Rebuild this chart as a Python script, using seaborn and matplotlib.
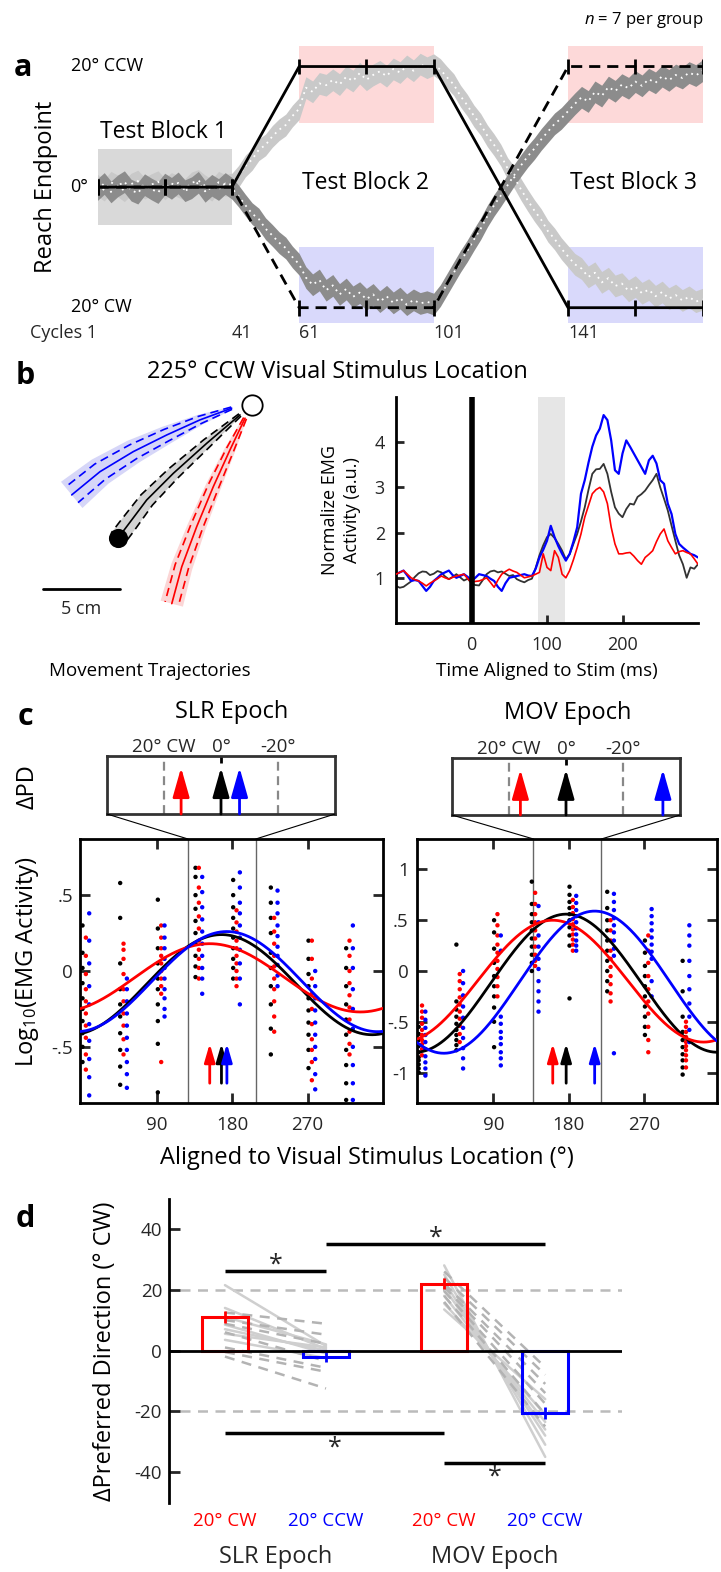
import numpy as np
import pandas as pd
import matplotlib
matplotlib.use('Agg')
import matplotlib.pyplot as plt
from matplotlib.patches import ConnectionPatch
import seaborn as sns

# ---------------- data ----------------
# a: reach endpoint (deg, + = CCW) every 2 cycles
CYCLES = list(range(1, 182, 2))
LIGHT_TRACE = [0.3, -0.5, 0.8, 0.2, -0.6, 0.5, 1.0, -0.2, 0.4, 0.9, -0.3, 0.6, 0.1, -0.4, 0.7, 1.1, 0.2, -0.5, 0.8, 0.3, 0.5,
               1.8, 3.5, 4.6, 6.2, 7.0, 8.4, 9.5, 10.3, 11.8, 13.0,
               16.5, 15.8, 17.2, 16.9, 17.8, 17.0, 18.3, 17.6, 18.9, 17.8, 18.6, 19.2, 18.4, 19.6, 19.0, 20.1, 19.3, 20.4, 19.8, 20.3,
               19.5, 18.2, 17.0, 15.1, 13.6, 11.8, 10.4, 8.5, 7.0, 5.3, 3.1, 1.6, -0.4, -2.2, -3.9, -5.4, -7.3, -8.6, -10.2, -11.5,
               -12.8, -13.5, -14.9, -14.2, -15.8, -15.1, -16.4, -16.0, -17.2, -16.5, -17.6, -17.0, -18.1, -17.4, -18.5, -17.9, -18.8, -18.2, -19.0, -18.6]
DARK_TRACE = [-0.4, 0.6, -0.8, 0.2, 0.9, -0.5, -1.0, 0.4, -0.3, -0.9, 0.5, -0.2, 0.7, -0.6, -0.1, 0.8, -0.7, 0.3, -0.4, 0.6, -0.2,
              -1.5, -3.0, -4.4, -5.3, -6.9, -8.0, -9.2, -10.1, -11.6, -12.8,
              -15.0, -16.2, -15.4, -17.1, -16.3, -17.8, -16.9, -18.2, -17.5, -18.6, -17.8, -19.0, -18.1, -19.2, -18.4, -19.5, -18.7, -19.3, -19.0, -19.4,
              -18.0, -16.1, -14.2, -12.3, -10.6, -8.7, -6.9, -4.8, -3.0, -1.4, 0.3, 2.0, 3.6, 5.1, 6.4, 7.9, 9.2, 10.5, 11.4, 12.6,
              13.8, 14.9, 14.2, 15.8, 15.1, 16.6, 15.9, 17.0, 16.4, 17.5, 16.8, 17.9, 17.3, 18.4, 17.7, 18.6, 18.1, 19.0, 18.5, 19.3]
TRACE_SEM = 1.8
TARGET_CYCLES = [1, 41, 61, 101, 141, 181]
TARGET_SOLID = [0, 0, 20, 20, -20, -20]
TARGET_DASHED = [0, 0, -20, -20, 20, 20]
TICK_CYCLES = [1, 21, 41, 61, 81, 101, 141, 161, 181]
CYCLE_LABELS = [41, 61, 101, 141]
BASELINE_BOX = (1, 41, -6.3, 6.3)
CCW_BOXES = [(61, 101, 10.7, 23.4), (141, 181, 10.7, 23.4)]
CW_BOXES = [(61, 101, -22.6, -10.0), (141, 181, -22.6, -10.0)]

# b: hand paths (cm, target at origin)
BLUE_PATH_X = [-1.32, -3.38, -5.54, -7.71, -9.87, -11.71]
BLUE_PATH_Y = [-0.21, -0.97, -1.95, -3.03, -4.33, -5.84]
BLUE_SD = [0.08, 0.25, 0.40, 0.50, 0.60, 0.65]
BLUE_SPREAD = [0.10, 0.35, 0.60, 0.80, 0.95, 1.10]
BLACK_PATH_X = [-0.78, -2.94, -5.11, -6.84, -8.14, -8.70]
BLACK_PATH_Y = [-0.65, -2.49, -4.44, -6.17, -7.90, -8.64]
BLACK_SD = [0.10, 0.30, 0.42, 0.50, 0.55, 0.55]
RED_PATH_X = [-0.45, -1.43, -2.51, -3.59, -4.56, -5.21]
RED_PATH_Y = [-0.86, -2.92, -5.30, -7.90, -10.50, -12.90]
RED_SD = [0.10, 0.25, 0.35, 0.40, 0.45, 0.45]
RED_SPREAD = [0.12, 0.35, 0.50, 0.60, 0.70, 0.75]
START_CM = (-8.70, -8.64)
TARGET_CM = (0.0, 0.0)
SCALE_CM = 5

# b: EMG every 5 ms
EMG_TIME = list(range(-100, 301, 5))
EMG_BLACK = [0.82, 0.78, 0.80, 0.86, 0.92, 1.02, 1.10, 1.14, 1.13, 1.06,
             1.09, 1.15, 1.12, 1.03, 0.97, 1.02, 1.08, 1.01, 0.94, 0.98,
             0.88, 0.84, 0.83, 0.95, 1.08, 1.14, 1.16, 1.12, 1.14, 1.09,
             1.04, 1.06, 0.97, 0.93, 0.90, 0.95, 0.98, 1.22, 1.50, 1.72,
             1.90, 1.97, 1.88, 1.75, 1.60, 1.41, 1.52, 1.75, 1.97, 2.25,
             2.56, 2.95, 3.30, 3.40, 3.41, 3.52, 3.30, 2.90, 2.56, 2.42,
             2.34, 2.52, 2.64, 2.62, 2.79, 2.85, 2.93, 3.05, 3.16, 3.30,
             3.00, 2.75, 2.49, 2.15, 1.82, 1.50, 1.30, 1.00, 1.23, 1.20, 1.30]
EMG_BLUE = [1.08, 1.12, 1.16, 1.05, 0.93, 0.95, 0.93, 0.82, 0.71, 0.80,
            0.93, 1.00, 1.08, 1.12, 1.16, 1.06, 1.00, 1.04, 1.08, 1.02,
            0.93, 1.00, 1.08, 1.06, 1.04, 0.98, 0.93, 0.80, 0.71, 0.88,
            1.00, 1.02, 1.04, 1.06, 1.08, 1.05, 1.04, 1.20, 1.45, 1.62,
            1.82, 2.15, 1.90, 1.70, 1.53, 1.38, 1.53, 1.80, 2.12, 2.86,
            3.16, 3.55, 3.90, 4.15, 4.30, 4.60, 4.49, 4.04, 3.38, 3.30,
            3.75, 4.04, 3.90, 3.75, 3.60, 3.45, 3.30, 3.60, 3.70, 3.53,
            3.16, 3.08, 2.64, 2.41, 1.97, 1.75, 1.67, 1.60, 1.53, 1.50, 1.45]
EMG_RED = [1.08, 1.12, 1.16, 1.08, 1.00, 0.96, 0.93, 0.88, 0.82, 0.88,
           0.93, 0.98, 1.04, 1.00, 0.97, 1.01, 1.04, 1.06, 1.08, 0.98,
           0.90, 0.92, 0.93, 0.96, 1.00, 0.90, 0.79, 0.95, 1.08, 1.14,
           1.19, 1.15, 1.12, 1.06, 1.00, 1.02, 1.04, 1.08, 1.12, 1.53,
           1.23, 1.16, 1.60, 1.45, 1.08, 1.00, 1.16, 1.40, 1.67, 1.97,
           2.34, 2.60, 2.86, 2.95, 3.00, 2.90, 2.64, 2.12, 1.75, 1.53,
           1.53, 1.55, 1.56, 1.48, 1.38, 1.30, 1.45, 1.52, 1.60, 1.80,
           1.97, 2.08, 1.82, 1.67, 1.53, 1.58, 1.60, 1.56, 1.53, 1.42, 1.30]
STIM_WINDOW = (88, 124)

# c: log10 EMG per target direction
DIRECTIONS = [0, 45, 90, 135, 180, 225, 270, 315]
SLR_BLACK = [[0.30, 0.12, 0.02, -0.08, -0.18, -0.25, -0.33, -0.41, -0.50, -0.60],
             [0.58, 0.35, 0.05, -0.12, -0.22, -0.30, -0.41, -0.52, -0.63, -0.75],
             [0.47, 0.28, 0.15, 0.05, -0.05, -0.12, -0.22, -0.33, -0.48, -0.80],
             [0.68, 0.62, 0.50, 0.41, 0.33, 0.25, 0.18, 0.10, 0.03, -0.04],
             [0.60, 0.50, 0.42, 0.35, 0.28, 0.22, 0.15, 0.08, 0.02, -0.05],
             [0.55, 0.45, 0.35, 0.25, 0.12, 0.02, -0.10, -0.22, -0.38, -0.55],
             [0.20, 0.08, -0.02, -0.10, -0.18, -0.26, -0.34, -0.42, -0.52, -0.64],
             [0.15, 0.02, -0.10, -0.22, -0.32, -0.42, -0.52, -0.62, -0.74, -0.85]]
SLR_RED = [[0.22, 0.10, -0.02, -0.12, -0.20, -0.28, -0.36, -0.44, -0.55, -0.65],
           [0.18, 0.14, 0.08, -0.02, -0.12, -0.20, -0.28, -0.36, -0.45, -0.55],
           [0.30, 0.22, 0.15, 0.10, 0.05, 0.00, -0.05, -0.10, -0.15, -0.60],
           [0.68, 0.55, 0.45, 0.36, 0.28, 0.20, 0.14, 0.08, 0.02, -0.05],
           [0.40, 0.32, 0.26, 0.20, 0.15, 0.10, 0.05, 0.00, -0.05, -0.10],
           [0.35, 0.26, 0.18, 0.10, 0.03, -0.05, -0.12, -0.20, -0.30, -0.40],
           [0.20, 0.08, -0.05, -0.15, -0.25, -0.35, -0.45, -0.52, -0.60, -0.72],
           [0.20, 0.10, 0.00, -0.08, -0.16, -0.24, -0.32, -0.40, -0.48, -0.55]]
SLR_BLUE = [[0.38, 0.20, 0.05, -0.10, -0.22, -0.35, -0.46, -0.58, -0.70, -0.82],
            [-0.05, -0.12, -0.20, -0.28, -0.36, -0.44, -0.52, -0.60, -0.68, -0.77],
            [0.30, 0.22, 0.15, 0.08, 0.02, -0.05, -0.12, -0.18, -0.25, -0.30],
            [0.62, 0.52, 0.42, 0.34, 0.26, 0.18, 0.10, 0.02, -0.05, -0.15],
            [0.65, 0.55, 0.45, 0.38, 0.30, 0.22, 0.14, 0.05, -0.05, -0.22],
            [0.53, 0.45, 0.38, 0.30, 0.23, 0.16, 0.10, 0.04, -0.03, -0.10],
            [0.00, -0.10, -0.18, -0.26, -0.34, -0.42, -0.50, -0.58, -0.68, -0.78],
            [0.30, 0.15, 0.02, -0.12, -0.25, -0.38, -0.50, -0.62, -0.74, -0.85]]
MOV_BLACK = [[-0.55, -0.62, -0.68, -0.74, -0.80, -0.85, -0.88, -0.92, -0.96, -1.00],
             [0.26, -0.30, -0.38, -0.45, -0.52, -0.58, -0.63, -0.68, -0.73, -0.78],
             [0.50, 0.38, 0.22, 0.08, -0.05, -0.15, -0.25, -0.36, -0.50, -0.75],
             [0.88, 0.66, 0.56, 0.48, 0.40, 0.32, 0.24, 0.16, 0.08, 0.00],
             [0.83, 0.75, 0.68, 0.62, 0.56, 0.50, 0.43, 0.35, 0.25, -0.27],
             [0.78, 0.62, 0.50, 0.40, 0.30, 0.20, 0.10, 0.00, -0.10, -0.20],
             [0.30, 0.18, 0.05, -0.05, -0.15, -0.25, -0.35, -0.45, -0.55, -0.63],
             [0.10, -0.20, -0.45, -0.60, -0.68, -0.75, -0.82, -0.88, -0.95, -1.02]]
MOV_RED = [[-0.34, -0.40, -0.46, -0.52, -0.58, -0.63, -0.68, -0.72, -0.77, -0.83],
           [-0.03, -0.10, -0.18, -0.26, -0.33, -0.40, -0.47, -0.54, -0.62, -0.70],
           [0.56, 0.45, 0.35, 0.26, 0.18, 0.10, 0.02, -0.06, -0.15, -0.25],
           [0.77, 0.66, 0.56, 0.48, 0.40, 0.32, 0.24, 0.16, 0.10, 0.05],
           [0.70, 0.63, 0.57, 0.51, 0.46, 0.41, 0.36, 0.31, 0.26, 0.20],
           [0.50, 0.40, 0.30, 0.20, 0.12, 0.04, -0.05, -0.13, -0.22, -0.30],
           [0.35, 0.20, 0.08, -0.05, -0.18, -0.30, -0.42, -0.55, -0.68, -0.80],
           [-0.50, -0.55, -0.60, -0.65, -0.70, -0.74, -0.78, -0.83, -0.88, -0.95]]
MOV_BLUE = [[-0.40, -0.48, -0.56, -0.63, -0.70, -0.77, -0.84, -0.90, -0.96, -1.03],
            [0.00, -0.12, -0.24, -0.35, -0.46, -0.56, -0.66, -0.76, -0.86, -0.96],
            [0.35, 0.20, -0.45, -0.52, -0.60, -0.66, -0.72, -0.80, -0.86, -0.93],
            [0.64, 0.48, 0.35, 0.24, 0.12, 0.02, -0.10, -0.20, -0.30, -0.40],
            [0.74, 0.67, 0.60, 0.54, 0.48, 0.42, 0.36, 0.30, 0.25, 0.20],
            [0.76, 0.68, 0.60, 0.52, 0.45, 0.38, 0.30, 0.22, 0.15, -0.81],
            [0.61, 0.54, 0.47, 0.40, 0.33, 0.26, 0.19, 0.12, -0.10, -0.25],
            [0.45, 0.35, 0.25, 0.10, -0.05, -0.18, -0.32, -0.45, -0.58, -0.70]]
# cosine fits: baseline, depth (order black, red, blue)
SLR_BASE = [-0.09, -0.045, -0.07]
SLR_DEPTH = [0.33, 0.225, 0.33]
MOV_BASE = [-0.12, -0.10, -0.11]
MOV_DEPTH = [0.68, 0.60, 0.70]
SLR_PD_BLACK = 167
MOV_PD_BLACK = 177
SLR_DPD = [0, 14, -6.5]    # deg CW relative to black
MOV_DPD = [0, 16, -34]
SLR_WINDOW = (127, 208)
MOV_WINDOW = (138, 219)

# d: change in preferred direction (deg CW)
BAR_LABELS = ['20° CW', '20° CCW', '20° CW', '20° CCW']
BAR_MEAN = [10.9, -2.0, 22.0, -20.6]
BAR_SEM = [2.0, 1.8, 1.7, 2.0]
SLR_CW_SOLID = [21.5, 14.0, 11.0, 8.5, 7.0, 5.5, 3.5]
SLR_CCW_SOLID = [1.5, 0.5, 2.0, -1.0, 0.0, 1.0, -2.5]
SLR_CW_DASH = [12.5, 10.0, 8.8, 6.0, 1.0, -0.5, -2.0]
SLR_CCW_DASH = [8.8, 5.2, 2.2, -3.5, -5.7, -7.0, -12.5]
MOV_CW_SOLID = [28.0, 25.0, 22.5, 20.5, 18.0, 15.5, 13.5]
MOV_CCW_SOLID = [-35.0, -31.0, -28.0, -26.0, -23.5, -21.0, -16.0]
MOV_CW_DASH = [26.0, 24.0, 22.0, 21.0, 19.5, 18.0, 16.0]
MOV_CCW_DASH = [-5.5, -8.0, -11.0, -14.0, -17.5, -21.0, -25.0]
SIG_PAIRS = [(0, 1, 26.0), (1, 3, 34.9), (0, 2, -27.2), (2, 3, -37.0)]

# ---------------- style ----------------
sns.set_theme(style='white')
plt.rcParams['font.family'] = ['Open Sans', 'DejaVu Sans']
plt.rcParams['mathtext.fontset'] = 'custom'
plt.rcParams['mathtext.rm'] = 'Open Sans'
plt.rcParams['mathtext.it'] = 'Open Sans:italic'
plt.rcParams['axes.unicode_minus'] = False

RED, BLUE = '#ff0000', '#0000ff'
W, H = 721, 1572
fig = plt.figure(figsize=(W / 100, H / 100), dpi=100)
fig.patch.set_facecolor('white')


def px_box(x0, y0, x1, y1):
    return [x0 / W, 1 - y1 / H, (x1 - x0) / W, (y1 - y0) / H]


def ftext(x, y, s, **kw):
    kw.setdefault('ha', 'center')
    kw.setdefault('va', 'center')
    kw.setdefault('color', 'black')
    fig.text(x / W, 1 - y / H, s, **kw)


for lab, (x, y) in zip('abcd', [(23, 68), (25, 376), (25, 717), (25, 1219)]):
    ftext(x, y, lab, fontsize=22, fontweight='bold')

# ---------------- panel a ----------------
ax_a = fig.add_axes(px_box(97.5, 40, 702.5, 330))
ax_a.set_xlim(1, 181)
ax_a.set_ylim(-23.7, 24.4)
ax_a.axis('off')
c0, c1, lo, hi = BASELINE_BOX
ax_a.fill_between([c0, c1], lo, hi, color='#d9d9d9', lw=0, zorder=0)
for c0, c1, lo, hi in CCW_BOXES:
    ax_a.fill_between([c0, c1], lo, hi, color='#fdd9d9', lw=0, zorder=0)
for c0, c1, lo, hi in CW_BOXES:
    ax_a.fill_between([c0, c1], lo, hi, color='#d9d9fb', lw=0, zorder=0)

cyc = np.array(CYCLES)
for trace, col in [(LIGHT_TRACE, '#c9c9c9'), (DARK_TRACE, '#8c8c8c')]:
    tr = np.array(trace)
    ax_a.fill_between(cyc, tr - TRACE_SEM, tr + TRACE_SEM, color=col, lw=0, zorder=1)
    sns.lineplot(x=cyc, y=tr, ax=ax_a, color='white', lw=1.3, linestyle=(0, (1, 2.5)), zorder=2)

ax_a.plot(TARGET_CYCLES, TARGET_SOLID, color='black', lw=2, zorder=4)
ax_a.plot(TARGET_CYCLES, TARGET_DASHED, color='black', lw=2, ls=(0, (4, 2.5)), zorder=4)
for c in TICK_CYCLES:
    for path in (TARGET_SOLID, TARGET_DASHED):
        yv = np.interp(c, TARGET_CYCLES, path)
        ax_a.vlines(c, yv - 1.3, yv + 1.3, color='black', lw=2, zorder=4)
ax_a.text(1, -24.2, 'Cycles 1', ha='right', va='center', fontsize=13)
for c in CYCLE_LABELS:
    ax_a.text(c, -24.2, str(c), ha='left', va='center', fontsize=13)

ftext(71, 66, '20° CCW', ha='left', fontsize=13)
ftext(70, 187, '0°', ha='left', fontsize=13)
ftext(71, 307, '20° CW', ha='left', fontsize=13)
ftext(46, 187, 'Reach Endpoint', rotation=90, fontsize=17)
ftext(163, 132, 'Test Block 1', fontsize=16.5)
ftext(366, 183, 'Test Block 2', fontsize=16.5)
ftext(634, 183, 'Test Block 3', fontsize=16.5)
ftext(703, 20, r'$n$ = 7 per group', ha='right', fontsize=12)

# ---------------- panel b ----------------
ftext(337, 372, '225° CCW Visual Stimulus Location', fontsize=17)

ax_t = fig.add_axes(px_box(40, 380, 290, 650))
ax_t.set_xlim(-13.77, 2.47)
ax_t.set_ylim(-15.91, 1.62)
ax_t.axis('off')


def offset_path(px, py, hw):
    pts = np.column_stack([px, py])
    tang = np.gradient(pts, axis=0)
    tang /= np.linalg.norm(tang, axis=1)[:, None]
    nrm = np.column_stack([-tang[:, 1], tang[:, 0]])
    hw = np.array(hw)[:, None]
    return pts + nrm * hw, pts - nrm * hw


for px, py, sd, spread, lc, fc in [
        (BLUE_PATH_X, BLUE_PATH_Y, BLUE_SD, BLUE_SPREAD, BLUE, '#d6d6f8'),
        (BLACK_PATH_X, BLACK_PATH_Y, BLACK_SD, BLACK_SD, 'black', '#d3d3d3'),
        (RED_PATH_X, RED_PATH_Y, RED_SD, RED_SPREAD, RED, '#fbd6d6')]:
    up, dn = offset_path(px, py, spread)
    ax_t.fill(np.r_[up[:, 0], dn[::-1, 0]], np.r_[up[:, 1], dn[::-1, 1]], color=fc, lw=0, zorder=1)
    up, dn = offset_path(px, py, sd)
    for edge in (up, dn):
        ax_t.plot(edge[:, 0], edge[:, 1], color=lc, lw=1.2, ls=(0, (5, 3)), zorder=2)
    ax_t.plot(px, py, color=lc, lw=1.2, zorder=2)

ax_t.scatter(*TARGET_CM, s=215, facecolor='white', edgecolor='black', lw=1.3, zorder=5)
ax_t.scatter(*START_CM, s=190, color='black', lw=0, zorder=5)
ax_t.plot([-13.57, -13.57 + SCALE_CM], [-11.95, -11.95], color='black', lw=2)
ax_t.text(-13.57 + SCALE_CM / 2, -13.25, f'{SCALE_CM} cm', ha='center', va='center', fontsize=13)
ftext(150, 671, 'Movement Trajectories', fontsize=13.5)

ax_e = fig.add_axes(px_box(396, 397, 698, 623))
ax_e.axvspan(*STIM_WINDOW, color='#e6e6e6', lw=0, zorder=0)
sns.lineplot(x=EMG_TIME, y=EMG_BLACK, ax=ax_e, color='#333333', lw=1.3, zorder=2)
sns.lineplot(x=EMG_TIME, y=EMG_BLUE, ax=ax_e, color=BLUE, lw=1.6, zorder=2)
sns.lineplot(x=EMG_TIME, y=EMG_RED, ax=ax_e, color=RED, lw=1.2, zorder=3)
ax_e.axvline(0, color='black', lw=4, zorder=4)
ax_e.set_xlim(-100, 300)
ax_e.set_ylim(0, 5)
for s in ['top', 'right']:
    ax_e.spines[s].set_visible(False)
for s in ['left', 'bottom']:
    ax_e.spines[s].set_linewidth(2)
    ax_e.spines[s].set_color('black')
ax_e.set_xticks([0, 100, 200])
ax_e.set_yticks([1, 2, 3, 4])
ax_e.tick_params(axis='x', bottom=True, direction='in', length=6, width=2, labelsize=13, pad=9)
ax_e.tick_params(axis='y', left=True, direction='in', length=6, width=2, labelsize=13, pad=8)
ax_e.set_xlabel('')
ax_e.set_ylabel('')
ftext(341, 510, 'Normalize EMG\nActivity (a.u.)', rotation=90, fontsize=13, linespacing=1.25)
ftext(547, 671, 'Time Aligned to Stim (ms)', fontsize=13.5)

# ---------------- panel c ----------------
ftext(28, 787, 'ΔPD', rotation=90, fontsize=17)
ftext(28, 962, r'Log$_{10}$(EMG Activity)', rotation=90, fontsize=17)
ftext(367, 1158, 'Aligned to Visual Stimulus Location (°)', fontsize=17)

GROUPS = ['black', 'red', 'blue']
DOT_COLORS = {'black': 'black', 'red': RED, 'blue': BLUE}
DOT_OFFSET = {'black': 1, 'red': 5, 'blue': 9}

epochs = [
    dict(title='SLR Epoch', title_xy=(232, 712), inset=(107, 756, 335, 814), main=(80, 839, 383, 1103),
         xlim=(-2, 360), ylim=(-0.87, 0.87), yticks=[0.5, 0, -0.5], yl=['.5', '0', '-.5'],
         data=[SLR_BLACK, SLR_RED, SLR_BLUE], base=SLR_BASE, depth=SLR_DEPTH,
         pd0=SLR_PD_BLACK, dpd=SLR_DPD, win=SLR_WINDOW, ypad=5),
    dict(title='MOV Epoch', title_xy=(568, 713), inset=(452, 758, 680, 815), main=(417, 839, 717, 1103),
         xlim=(-1, 357), ylim=(-1.3, 1.3), yticks=[1, 0.5, 0, -0.5, -1], yl=['1', '.5', '0', '-.5', '-1'],
         data=[MOV_BLACK, MOV_RED, MOV_BLUE], base=MOV_BASE, depth=MOV_DEPTH,
         pd0=MOV_PD_BLACK, dpd=MOV_DPD, win=MOV_WINDOW, ypad=6),
]

for ep in epochs:
    ftext(*ep['title_xy'], ep['title'], fontsize=17)

    ax = fig.add_axes(px_box(*ep['main']))
    rows = []
    for g, vals in zip(GROUPS, ep['data']):
        for d, cluster in zip(DIRECTIONS, vals):
            for v in cluster:
                rows.append((d, v, g))
    df = pd.DataFrame(rows, columns=['direction', 'value', 'group'])
    df['x'] = df['direction'] + df['group'].map(DOT_OFFSET)
    for w in ep['win']:
        ax.axvline(w, color='#666666', lw=1, zorder=0)
    sns.scatterplot(data=df, x='x', y='value', hue='group', palette=DOT_COLORS,
                    s=10, linewidth=0, legend=False, ax=ax, zorder=2)
    theta = np.linspace(ep['xlim'][0], ep['xlim'][1], 400)
    pds = [ep['pd0'] - d for d in ep['dpd']]
    for g, b, a, p in zip(GROUPS, ep['base'], ep['depth'], pds):
        ax.plot(theta, b + a * np.cos(np.deg2rad(theta - p)), color=DOT_COLORS[g], lw=2, zorder=3)
    for g, p in zip(GROUPS, pds):
        ax.annotate('', xy=(p, 0.225), xytext=(p, 0.075), xycoords=ax.get_xaxis_transform(),
                    textcoords=ax.get_xaxis_transform(),
                    arrowprops=dict(arrowstyle='-|>,head_length=0.55,head_width=0.16', color=DOT_COLORS[g],
                                    lw=2, mutation_scale=20, shrinkA=0, shrinkB=0), zorder=4)
    ax.set_xlim(*ep['xlim'])
    ax.set_ylim(*ep['ylim'])
    ax.set_xticks([90, 180, 270])
    ax.set_yticks(ep['yticks'])
    ax.set_yticklabels(ep['yl'])
    ax.set_xlabel('')
    ax.set_ylabel('')
    for s in ax.spines.values():
        s.set_linewidth(2)
        s.set_color('black')
    ax.tick_params(axis='x', bottom=True, top=True, direction='in', length=7, width=2, labelsize=13.5, pad=9)
    ax.tick_params(axis='y', left=True, right=True, direction='in', length=7, width=2, labelsize=13.5, pad=ep['ypad'])

    ins = fig.add_axes(px_box(*ep['inset']))
    ins.set_xlim(40, -40)
    ins.set_ylim(0, 1)
    ins.set_xticks([])
    ins.set_yticks([])
    for s in ins.spines.values():
        s.set_linewidth(2)
        s.set_color('#333333')
    ins.vlines([20, -20], 0, 1, color='#888888', lw=1.6, linestyles=(0, (4, 2.5)))
    ins.vlines(0, 0.88, 1, color='black', lw=2)
    for xv, lab in [(20, '20° CW'), (0, '0°'), (-20, '-20°')]:
        ins.text(xv, 1.16, lab, transform=ins.get_xaxis_transform(), ha='center', va='center', fontsize=13.5)
    for g, d in zip(GROUPS, ep['dpd']):
        ins.annotate('', xy=(d, 0.8), xytext=(d, 0.0),
                     arrowprops=dict(arrowstyle='-|>,head_length=0.6,head_width=0.17', color=DOT_COLORS[g],
                                     lw=2, mutation_scale=30, shrinkA=0, shrinkB=0))
    for corner, w in zip([0, 1], ep['win']):
        con = ConnectionPatch(xyA=(corner, 0), coordsA=ins.transAxes, xyB=(w, 1),
                              coordsB=ax.get_xaxis_transform(), color='black', lw=0.8)
        fig.add_artist(con)

# ---------------- panel d ----------------
POS = [1, 2, 3.17, 4.17]
ax_d = fig.add_axes(px_box(169, 1198.5, 622, 1502.5))
ax_d.set_xlim(0.446, 4.93)
ax_d.set_ylim(-50, 50)
for s in ['top', 'right', 'bottom']:
    ax_d.spines[s].set_visible(False)
ax_d.spines['left'].set_linewidth(2)
ax_d.spines['left'].set_color('black')
ax_d.hlines([20, -20], 0.555, 4.93, color='#bbbbbb', lw=1.8, linestyles=(0, (4, 3)), zorder=0)

for cw, ccw, p0, p1 in [(SLR_CW_SOLID, SLR_CCW_SOLID, POS[0], POS[1]), (MOV_CW_SOLID, MOV_CCW_SOLID, POS[2], POS[3])]:
    for a, b in zip(cw, ccw):
        ax_d.plot([p0, p1], [a, b], color='#cfcfcf', lw=1.8, zorder=1)
for cw, ccw, p0, p1 in [(SLR_CW_DASH, SLR_CCW_DASH, POS[0], POS[1]), (MOV_CW_DASH, MOV_CCW_DASH, POS[2], POS[3])]:
    for a, b in zip(cw, ccw):
        ax_d.plot([p0, p1], [a, b], color='#b3b3b3', lw=1.8, ls=(0, (4, 3)), zorder=1)

bar_cols = [RED, BLUE, RED, BLUE]
ax_d.bar(POS, BAR_MEAN, width=0.455, fill=False, edgecolor=bar_cols, lw=2.2, zorder=3)
ax_d.vlines(POS, np.array(BAR_MEAN) - np.array(BAR_SEM), np.array(BAR_MEAN) + np.array(BAR_SEM),
            colors=bar_cols, lw=2, zorder=3)
ax_d.axhline(0, color='black', lw=2, zorder=4)

for i, j, yv in SIG_PAIRS:
    ax_d.hlines(yv, POS[i], POS[j], color='black', lw=2.5)
    ystar = yv + 2.0 if yv > 0 else yv - 4.8
    ax_d.text((POS[i] + POS[j]) / 2, ystar, '*', ha='center', va='center', fontsize=18)

ax_d.set_yticks([40, 20, 0, -20, -40])
ax_d.set_yticklabels(['40', '20', '0', '-20', '-40'])
ax_d.set_xticks([])
ax_d.tick_params(axis='y', left=True, direction='in', length=8, width=2, labelsize=13.5, pad=5)
for p, lab, col in zip(POS, BAR_LABELS, bar_cols):
    ax_d.text(p, -0.061, lab, transform=ax_d.get_xaxis_transform(), ha='center', va='center',
              fontsize=13.5, color=col)
ax_d.text((POS[0] + POS[1]) / 2, -0.18, 'SLR Epoch', transform=ax_d.get_xaxis_transform(),
          ha='center', va='center', fontsize=17)
ax_d.text((POS[2] + POS[3]) / 2, -0.18, 'MOV Epoch', transform=ax_d.get_xaxis_transform(),
          ha='center', va='center', fontsize=17)
ftext(105, 1351, 'ΔPreferred Direction (° CW)', rotation=90, fontsize=17)

fig.savefig('out.png', dpi=100, facecolor='white')
